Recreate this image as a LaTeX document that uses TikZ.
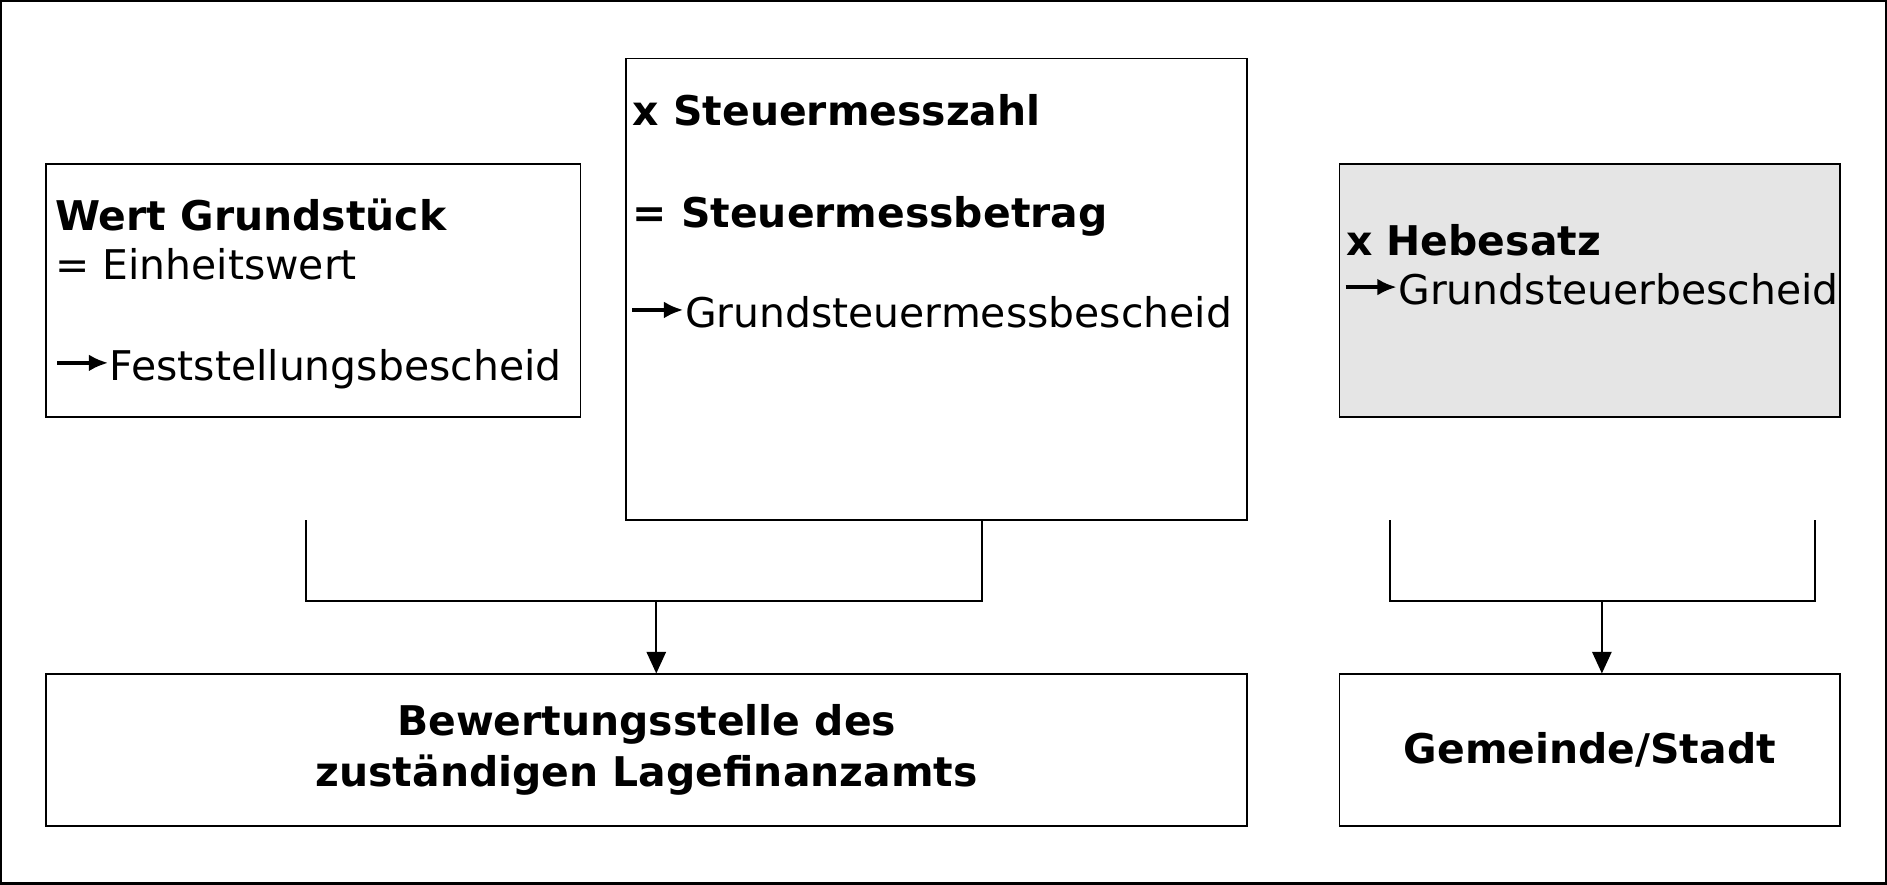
\documentclass[tikz,border=0pt]{standalone}
\usepackage{fontspec}
\setmainfont{DejaVu Sans}
\usetikzlibrary{arrows.meta}
\newcommand{\arr}{\tikz[baseline=-0.5ex]\draw[-{Latex[length=8pt,width=7pt]},line width=1.5pt](0,0.3ex)--(1.25em,0.3ex);}
\begin{document}
\begin{tikzpicture}[x=0.5pt,y=-0.5pt,
 box/.style={draw,line width=0.7pt},
 txt/.style={anchor=base west,inner sep=0,font=\fontsize{17}{20}\selectfont},
 btxt/.style={txt,font=\fontsize{17}{20}\selectfont\bfseries},
 ln/.style={line width=0.9pt},
 ar/.style={ln,-{Triangle[length=9pt,width=8pt]}}]
\draw[line width=1pt] (0.5,0.5) rectangle (1567,734);
\useasboundingbox (0,0) rectangle (1568,735);
\draw[box] (38,136) rectangle (482,346);
\node[btxt] (t1) at (45,191) {Wert Grundstück};
\node[txt] (t2) at (45,232) {= Einheitswert};
\node[txt] (t3) at (45,316) {\arr Feststellungsbescheid};
\draw[box] (520,48) rectangle (1036,432);
\node[btxt] (t4) at (525,104) {x Steuermesszahl};
\node[btxt] (t5) at (525,189) {= Steuermessbetrag};
\node[txt] (t6) at (523,272) {\arr Grundsteuermessbescheid};
\draw[box,fill=black!10] (1113,136) rectangle (1529,346);
\node[btxt] (t7) at (1118,212) {x Hebesatz};
\node[txt] (t8) at (1116,253) {\arr Grundsteuerbescheid};
\node[box,minimum width=998*0.5pt,minimum height=126*0.5pt,align=center,font=\fontsize{17}{21}\selectfont\bfseries] (b4) at (537,623) {Bewertungsstelle des\\zuständigen Lagefinanzamts};
\node[box,minimum width=416*0.5pt,minimum height=126*0.5pt,font=\fontsize{17}{20}\selectfont\bfseries] (b5) at (1321,623) {Gemeinde/Stadt};
\coordinate (a1) at (254,432); \coordinate (a2) at (816,432);
\coordinate (j1) at (545,499);
\coordinate (c1) at (1155,432); \coordinate (c2) at (1508,432);
\coordinate (j2) at (1331,499);
\draw[ln] (a1) |- (j1) -| (a2);
\draw[ar] (j1) -- (j1 |- b4.north);
\draw[ln] (c1) |- (j2) -| (c2);
\draw[ar] (j2) -- (j2 |- b5.north);
\end{tikzpicture}
\end{document}
